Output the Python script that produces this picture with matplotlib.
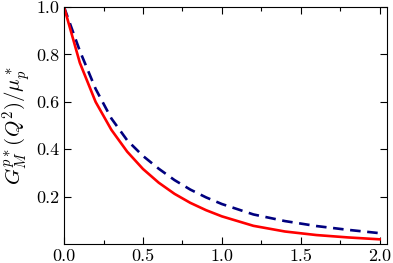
import matplotlib
matplotlib.use("Agg")
import matplotlib.pyplot as plt
from matplotlib.ticker import MultipleLocator

plt.rcParams['font.family'] = 'cmr10'
plt.rcParams['mathtext.fontset'] = 'cm'
plt.rcParams['axes.formatter.use_mathtext'] = True

q2 = [0.0, 0.1, 0.2, 0.3, 0.4, 0.5, 0.6, 0.7, 0.8, 0.9, 1.0, 1.2, 1.4, 1.6, 1.8, 2.0]
g_red = [1.0, 0.765, 0.60, 0.482, 0.39, 0.317, 0.259, 0.212, 0.174, 0.143, 0.117,
         0.077, 0.053, 0.038, 0.028, 0.020]
g_blue = [1.0, 0.815, 0.655, 0.53, 0.438, 0.372, 0.318, 0.27, 0.23, 0.197, 0.169,
          0.125, 0.097, 0.076, 0.060, 0.046]

xticks = [0.0, 0.5, 1.0, 1.5, 2.0]
yticks = [0.2, 0.4, 0.6, 0.8, 1.0]

fig = plt.figure(figsize=(3.93, 2.63), dpi=100)
ax = fig.add_axes([0.163, 0.072, 0.823, 0.901])

ax.plot(q2, g_blue, color='#00007f', lw=1.9, ls=(0, (4, 2.5)))
ax.plot(q2, g_red, color='#ff0000', lw=1.9)

ax.set_xlim(0, 2.05)
ax.set_ylim(0, 1.0)
ax.set_xticks(xticks)
ax.set_xticklabels([f"{v:.1f}" for v in xticks])
ax.set_yticks(yticks)
ax.set_yticklabels([f"{v:.1f}" for v in yticks])
ax.xaxis.set_minor_locator(MultipleLocator(0.25))
ax.tick_params(which='both', direction='in', top=True, right=True, labelsize=13)
ax.tick_params(which='major', length=5, width=0.8)
ax.tick_params(which='minor', length=3, width=0.8)
ax.set_ylabel(r'$G_M^{p*}(Q^2)/\mu_p^*$', fontsize=15, labelpad=2)

fig.savefig('out.png', dpi=100)
